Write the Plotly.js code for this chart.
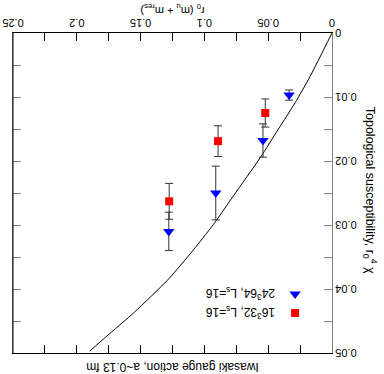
<!DOCTYPE html>
<html>
<head>
<meta charset="utf-8">
<script src="https://cdn.plot.ly/plotly-3.0.1.min.js"></script>
<style>
    html, body { margin: 0; padding: 0; background: white; overflow: hidden; }
    /* the reference is printed upside down, so the whole chart is turned round */
    #chart { width: 384px; height: 374px; transform: rotate(180deg); }
</style>
</head>
<body>
<div id="chart"></div>
<script>
// 16^3 32, Ls=16 (red squares)
const redX = [0.0523, 0.0893, 0.1276];
const redY = [0.0125, 0.0169, 0.0263];
const redErr = [0.0022, 0.0024, 0.0028];

// 24^3 64, Ls=16 (blue triangles)
const blueX = [0.0336, 0.0541, 0.0911, 0.1279];
const blueY = [0.0097, 0.0168, 0.0250, 0.0310];
const blueErr = [0.0008, 0.0026, 0.0042, 0.0030];

// curve
const curveX = [0, 0.0172, 0.0289, 0.0420, 0.0563, 0.0771, 0.0914, 0.1070, 0.1279, 0.1547, 0.1773, 0.1898];
const curveY = [0, 0.0068, 0.0109, 0.0150, 0.0195, 0.0254, 0.0295, 0.0335, 0.0384, 0.0436, 0.0475, 0.0497];

const font = 'Liberation Sans, Arial, sans-serif';
const errColor = '#333333';

const traces = [
    {
        x: curveX, y: curveY,
        type: 'scatter', mode: 'lines',
        line: { color: 'black', width: 1, shape: 'spline', smoothing: 0.6 },
        showlegend: false, hoverinfo: 'skip'
    },
    {
        x: redX, y: redY,
        type: 'scatter', mode: 'markers',
        name: '16<sup>3</sup>32, L<sub>s</sub>=16',
        marker: { symbol: 'square', size: 8, color: '#ff0000' },
        error_y: { type: 'data', array: redErr, visible: true, color: errColor, thickness: 1, width: 4 }
    },
    {
        x: blueX, y: blueY,
        type: 'scatter', mode: 'markers',
        name: '24<sup>3</sup>64, L<sub>s</sub>=16',
        marker: { symbol: 'triangle-up', size: 10, color: '#0000ff' },
        error_y: { type: 'data', array: blueErr, visible: true, color: errColor, thickness: 1, width: 4 }
    }
];

const layout = {
    width: 384,
    height: 374,
    margin: { l: 52, r: 13, t: 21, b: 33 },
    paper_bgcolor: 'white',
    plot_bgcolor: 'white',
    font: { family: font, size: 11, color: 'black' },
    title: {
        text: 'Iwasaki gauge action, a~0.13 fm',
        font: { family: font, size: 12, color: 'black' },
        x: 0.5, xref: 'paper',
        y: 0.981, yanchor: 'middle'
    },
    xaxis: {
        range: [0, 0.25],
        dtick: 0.05,
        ticks: 'inside', ticklen: 8, tickcolor: 'black',
        minor: { dtick: 0.025, ticks: 'inside', ticklen: 8, tickcolor: 'black' },
        showline: true, linecolor: 'black', linewidth: 1, mirror: 'ticks',
        showgrid: false, zeroline: false,
        tickfont: { size: 11 },
        title: { text: 'r<sub>0</sub> (m<sub>u</sub> + m<sub>res</sub>)', font: { size: 11 }, standoff: 2 }
    },
    yaxis: {
        range: [0, 0.05],
        dtick: 0.01,
        ticks: 'inside', ticklen: 8, tickcolor: '#808080',
        minor: { dtick: 0.005, ticks: 'inside', ticklen: 8, tickcolor: '#808080' },
        showline: true, linecolor: '#808080', linewidth: 1, mirror: 'ticks',
        showgrid: false, zeroline: false,
        tickfont: { size: 11 }
    },
    shapes: [{
        type: 'line', xref: 'paper', yref: 'paper',
        x0: 1, x1: 1, y0: 0, y1: 1,
        line: { color: 'black', width: 1 }
    }],
    annotations: [{
        text: 'Topological susceptibility, r<sub>0</sub><sup>4</sup> χ',
        xref: 'paper', yref: 'paper',
        x: -0.119, y: 0.49,
        xanchor: 'center', yanchor: 'middle',
        textangle: -90, showarrow: false,
        font: { family: font, size: 12.5, color: 'black' }
    }],
    legend: {
        x: 0.053, y: 0.92, xanchor: 'left', yanchor: 'top',
        bgcolor: 'rgba(0,0,0,0)',
        tracegroupgap: 0,
        font: { family: font, size: 12 }
    },
    showlegend: true
};

Plotly.newPlot('chart', traces, layout, { displayModeBar: false, staticPlot: true });
</script>
</body>
</html>
